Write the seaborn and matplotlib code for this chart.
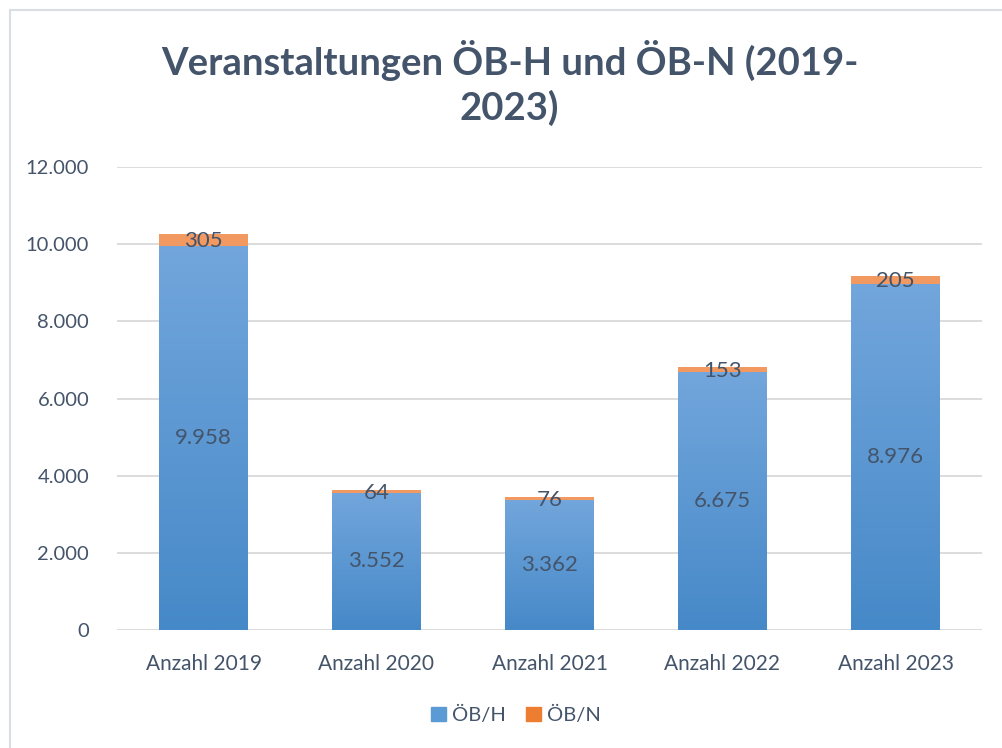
import numpy as np
import pandas as pd
import matplotlib
matplotlib.use("Agg")
import matplotlib.pyplot as plt
import seaborn as sns
from matplotlib.colors import LinearSegmentedColormap
from matplotlib.patches import Rectangle

categories = ["Anzahl 2019", "Anzahl 2020", "Anzahl 2021", "Anzahl 2022", "Anzahl 2023"]
oebh = [9958, 3552, 3362, 6675, 8976]
oebn = [305, 64, 76, 153, 205]
series_names = ["ÖB/H", "ÖB/N"]
yticks = [0, 2000, 4000, 6000, 8000, 10000, 12000]
title = "Veranstaltungen ÖB-H und ÖB-N (2019-\n2023)"

sns.set_theme(style="white")
plt.rcParams["font.family"] = ["Lato", "DejaVu Sans"]
TXT = "#44546A"

def fmt(v):
    return f"{v:,}".replace(",", ".")

df = pd.DataFrame({"cat": categories, "h": oebh, "n": oebn})
df["total"] = df["h"] + df["n"]

fig = plt.figure(figsize=(10.03, 7.48), dpi=100)
ax = fig.add_axes([117/1003, 1-630/748, (982-117)/1003, (630-167)/748])

sns.barplot(data=df, x="cat", y="total", color="#ED7D31", width=0.51, ax=ax, saturation=1)
sns.barplot(data=df, x="cat", y="h", color="#5B9BD5", width=0.51, ax=ax, saturation=1)

blue_cm = LinearSegmentedColormap.from_list("b", ["#4689C8", "#72A6DC"])
orange_cm = LinearSegmentedColormap.from_list("o", ["#EC7A2E", "#F39A63"])
n = len(categories)
patches = list(ax.patches)
grad = np.linspace(0, 1, 256).reshape(-1, 1)
for i, p in enumerate(patches):
    cm = orange_cm if i < n else blue_cm
    x0, y0 = p.get_x(), p.get_y()
    w, h = p.get_width(), p.get_height()
    im = ax.imshow(grad, cmap=cm, aspect="auto", origin="lower",
                   extent=[x0, x0 + w, y0, y0 + h], zorder=p.get_zorder() + 0.1 + (0.5 if i >= n else 0))
    im.set_clip_path(p)
    p.set_edgecolor("none")

ax.set_xlim(-0.5, n - 0.5)
ax.set_ylim(0, 12000)
ax.set_yticks(yticks)
ax.set_yticklabels([fmt(t) for t in yticks])
ax.set_xlabel("")
ax.set_ylabel("")
ax.tick_params(axis="both", length=0, colors=TXT)
ax.tick_params(axis="y", pad=20, labelsize=14.5)
ax.tick_params(axis="x", pad=17, labelsize=15)
for s in ax.spines.values():
    s.set_visible(False)
ax.grid(axis="y", color="#D9D9D9", linewidth=1.3)
ax.set_axisbelow(True)

for i in range(n):
    ax.text(i, oebh[i] / 2, fmt(oebh[i]), ha="center", va="center", fontsize=16, color=TXT, zorder=10)
    ax.text(i, oebh[i] + oebn[i] / 2 - 40, fmt(oebn[i]), ha="center", va="center", fontsize=16, color=TXT, zorder=10)

fig.text(0.508, 1 - 83/748, title, ha="center", va="center", fontsize=27.5, fontweight="bold",
         color=TXT, linespacing=1.3)

handles = [Rectangle((0, 0), 1, 1, color="#5B9BD5"), Rectangle((0, 0), 1, 1, color="#ED7D31")]
leg = fig.legend(handles, series_names, loc="center", bbox_to_anchor=(516/1003, 1 - 715/748), ncol=2,
                 frameon=False, fontsize=14.5, handlelength=0.75, handleheight=0.75,
                 handletextpad=0.3, columnspacing=1.0)
for t in leg.get_texts():
    t.set_color(TXT)

fig.add_artist(Rectangle((10/1003, -0.01), 1.02, 1 - 10/748 + 0.01, transform=fig.transFigure,
                         fill=False, edgecolor="#D9DDE4", linewidth=1.5))

fig.savefig("out.png", dpi=100)
